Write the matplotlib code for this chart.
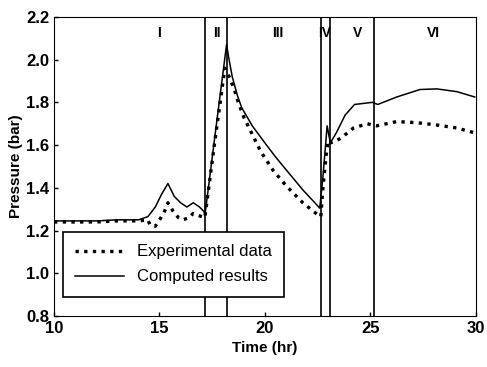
import numpy as np
import matplotlib
matplotlib.use('Agg')
import matplotlib.pyplot as plt

plt.rcParams['font.family'] = ['Liberation Sans', 'DejaVu Sans']

# experimental data (dotted)
exp_t = [10.0, 11.0, 12.0, 13.0, 14.0, 14.45, 14.55, 14.8, 15.0, 15.2, 15.4, 15.65, 15.9, 16.1, 16.4, 16.6, 17.0,
         17.15, 17.6, 18.1, 18.3, 18.55, 18.7, 19.0, 19.4, 19.8, 20.4, 21.0, 21.8, 22.55, 22.65,
         22.75, 22.9, 23.0, 23.1, 23.4, 23.7, 24.2, 24.85, 25.3, 26.25, 27.2, 28.15, 29.1, 29.95]
exp_p = [1.24, 1.24, 1.24, 1.245, 1.245, 1.25, 1.226, 1.22, 1.25, 1.28, 1.33, 1.29, 1.26, 1.25, 1.26, 1.28, 1.265,
         1.26, 1.60, 1.96, 1.92, 1.86, 1.81, 1.73, 1.65, 1.57, 1.48, 1.41, 1.33, 1.27, 1.265,
         1.40, 1.55, 1.62, 1.61, 1.62, 1.64, 1.68, 1.70, 1.69, 1.71, 1.705, 1.694, 1.68, 1.657]

# computed results (solid)
com_t = [10.0, 11.0, 12.0, 13.0, 14.0, 14.45, 14.8, 15.1, 15.4, 15.7, 16.0, 16.3, 16.6, 16.9, 17.1,
         17.16, 17.6, 18.18, 18.3, 18.45, 18.7, 18.9, 19.4, 20.0, 20.5, 21.0, 21.8, 22.6,
         22.75, 22.95, 23.1, 23.4, 23.8, 24.25, 25.1, 25.35, 26.25, 27.35, 28.15, 29.1, 29.95]
com_p = [1.245, 1.245, 1.245, 1.25, 1.25, 1.265, 1.31, 1.37, 1.42, 1.36, 1.33, 1.31, 1.33, 1.31, 1.29,
         1.275, 1.62, 2.07, 2.0, 1.92, 1.83, 1.775, 1.69, 1.61, 1.545, 1.485, 1.39, 1.305,
         1.45, 1.69, 1.61, 1.66, 1.74, 1.79, 1.80, 1.79, 1.825, 1.86, 1.863, 1.85, 1.825]

bounds = [17.16, 18.2, 22.64, 23.08, 25.17]
regions = ['I', 'II', 'III', 'IV', 'V', 'VI']
region_x = [15.0, 17.7, 20.6, 22.85, 24.4, 28.0]

fig = plt.figure(figsize=(4.87, 3.67), dpi=100)
ax = fig.add_axes([0.111, 0.139, 0.866, 0.815])

ax.plot(exp_t, exp_p, color='black', linestyle=(0, (1, 1.6)), linewidth=2.4, label='Experimental data')
ax.plot(com_t, com_p, color='black', linestyle='-', linewidth=1.1, label='Computed results')

for b in bounds:
    ax.axvline(b, color='black', linewidth=1.2)

for name, xr in zip(regions, region_x):
    ax.text(xr, 2.125, name, ha='center', va='center', fontsize=10, fontweight='bold')

ax.set_xlim(10, 30)
ax.set_ylim(0.8, 2.2)
ax.set_xticks([10, 15, 20, 25, 30])
ax.set_yticks(np.arange(0.8, 2.21, 0.2))
ax.set_yticklabels(['0.8', '1.0', '1.2', '1.4', '1.6', '1.8', '2.0', '2.2'])
ax.tick_params(direction='in', length=3, labelsize=12, width=1)
for lab in ax.get_xticklabels() + ax.get_yticklabels():
    lab.set_fontweight('bold')

ax.set_xlabel('Time (hr)', fontsize=11, fontweight='bold')
ax.set_ylabel('Pressure (bar)', fontsize=11, fontweight='bold', labelpad=2)

leg = ax.legend(loc='lower left', bbox_to_anchor=(0.021, 0.064), borderaxespad=0, fontsize=12,
                handlelength=2.9, fancybox=False, framealpha=1, edgecolor='black',
                borderpad=0.75, labelspacing=0.6)
leg.get_frame().set_linewidth(1.2)

fig.savefig('out.png', dpi=100)
